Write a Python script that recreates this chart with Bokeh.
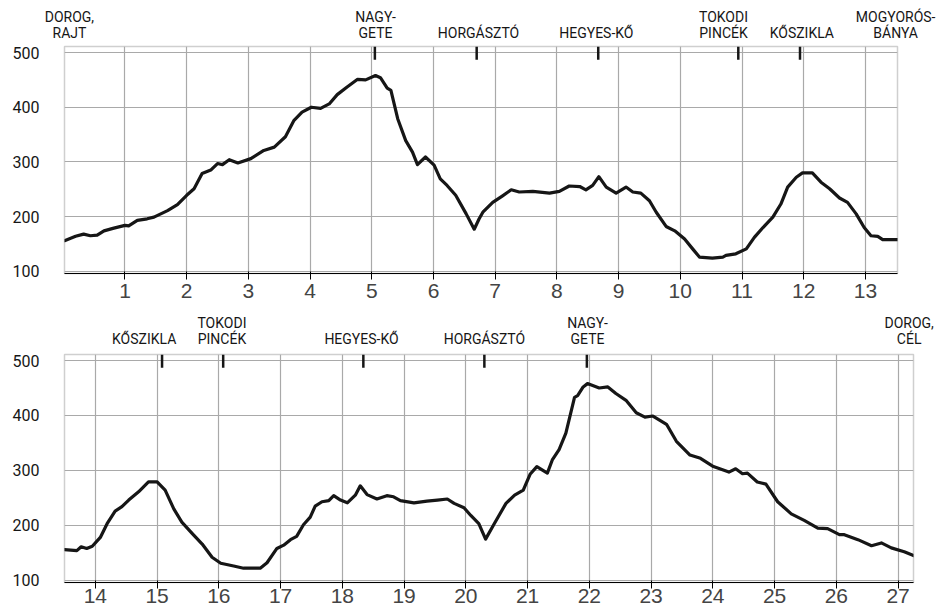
from bokeh.plotting import figure
from bokeh.layouts import column, row
from bokeh.models import Range1d, FixedTicker, LinearAxis
from bokeh.embed import file_html
from bokeh.resources import INLINE

# ---- elevation profile, first half (km, m) ----
km_1 = [0.02, 0.2, 0.33, 0.44, 0.55, 0.66, 0.82, 1.0, 1.06, 1.2, 1.36, 1.47, 1.69, 1.85, 2.0,
        2.12, 2.25, 2.39, 2.5, 2.58, 2.69, 2.83, 3.04, 3.25, 3.42, 3.6, 3.74, 3.87, 4.02, 4.17,
        4.31, 4.44, 4.6, 4.77, 4.9, 5.06, 5.14, 5.25, 5.31, 5.42, 5.55, 5.66, 5.74, 5.87, 6.01,
        6.11, 6.22, 6.36, 6.53, 6.66, 6.74, 6.8, 6.96, 7.12, 7.26, 7.39, 7.61, 7.88, 8.04, 8.2,
        8.37, 8.47, 8.58, 8.68, 8.8, 8.96, 9.12, 9.23, 9.36, 9.5, 9.61, 9.77, 9.91, 10.07, 10.2,
        10.31, 10.52, 10.69, 10.74, 10.9, 11.07, 11.2, 11.34, 11.5, 11.63, 11.74, 11.88, 11.98,
        12.14, 12.28, 12.42, 12.58, 12.71, 12.85, 12.98, 13.09, 13.2, 13.28, 13.52]
elev_1 = [156, 164, 168, 165, 166, 174, 179, 184, 183, 193, 196, 199, 211, 222, 239,
          251, 279, 285, 297, 295, 304, 298, 306, 321, 327, 346, 376, 391, 400, 398,
          406, 423, 437, 451, 450, 458, 454, 435, 431, 379, 339, 318, 295, 309, 294,
          269, 257, 239, 205, 177, 196, 208, 226, 238, 249, 245, 246, 243, 246, 256,
          255, 249, 257, 273, 254, 243, 254, 245, 243, 229, 208, 182, 174, 159, 141,
          126, 124, 126, 129, 132, 141, 162, 180, 199, 223, 254, 272, 280,
          280, 263, 251, 234, 226, 205, 180, 165, 164, 158, 158]

# ---- elevation profile, second half ----
km_2 = [13.5, 13.7, 13.77, 13.86, 13.95, 14.08, 14.19, 14.32, 14.43, 14.54, 14.7, 14.86, 15.0,
        15.13, 15.27, 15.4, 15.57, 15.73, 15.89, 16.03, 16.24, 16.4, 16.67, 16.78, 16.94, 17.05,
        17.16, 17.26, 17.37, 17.48, 17.56, 17.67, 17.78, 17.86, 17.97, 18.08, 18.21, 18.29, 18.4,
        18.56, 18.72, 18.83, 18.94, 19.16, 19.37, 19.54, 19.7, 19.81, 19.97, 20.08, 20.21, 20.32,
        20.46, 20.65, 20.79, 20.93, 21.04, 21.15, 21.32, 21.4, 21.51, 21.62, 21.76, 21.81, 21.9,
        21.97, 22.16, 22.3, 22.43, 22.6, 22.76, 22.9, 23.03, 23.25, 23.41, 23.63, 23.8, 24.01,
        24.26, 24.37, 24.48, 24.56, 24.72, 24.86, 25.05, 25.27, 25.48, 25.7, 25.86, 26.05, 26.13,
        26.35, 26.57, 26.73, 26.89, 27.1, 27.25]
elev_2 = [156, 154, 161, 158, 162, 178, 203, 226, 234, 246, 261, 279, 279,
          264, 230, 206, 185, 166, 142, 131, 126, 122, 122, 132, 158, 164,
          174, 180, 201, 215, 235, 243, 245, 254, 246, 241, 255, 272, 256,
          248, 254, 252, 245, 241, 244, 246, 248, 240, 232, 218, 203, 175,
          203, 240, 255, 264, 293, 307, 295, 319, 338, 368, 433, 436, 452,
          458, 450, 452, 440, 427, 405, 397, 399, 384, 353, 328, 322, 307,
          297, 303, 294, 295, 279, 275, 243, 221, 209, 195, 194, 183, 183,
          174, 163, 168, 159, 152, 145]

y_ticks = [100, 200, 300, 400, 500]
x_ticks_1 = list(range(1, 14))
x_ticks_2 = list(range(14, 28))

# ---- waypoints: tick position (km); label text and label centre (km) ----
mark_km_1 = [5.05, 6.70, 8.67, 10.94, 11.94]
place_names_1 = ["DOROG,\nRAJT", "NAGY-\nGETE", "HORGÁSZTÓ", "HEGYES-KŐ",
                 "TOKODI\nPINCÉK", "KŐSZIKLA", "MOGYORÓS-\nBÁNYA"]
place_km_1 = [0.10, 5.06, 6.73, 8.64, 10.70, 11.97, 13.49]

mark_km_2 = [15.08, 16.07, 18.34, 20.30, 21.96]
place_names_2 = ["KŐSZIKLA", "TOKODI\nPINCÉK", "HEGYES-KŐ", "HORGÁSZTÓ",
                 "NAGY-\nGETE", "DOROG,\nCÉL"]
place_km_2 = [14.79, 16.05, 18.31, 20.30, 21.97, 27.18]

FONT = "Roboto"
GRID = "#a9a9a9"
INK = "#161616"
Y_LO, Y_HI = 96, 511


def make_panel(xs, ys, x0, x1, xticks, marks, names, name_km, height, top, bottom,
               bottom_standoff, top_standoff, border_right):
    p = figure(width=939, height=height, x_range=Range1d(x0, x1), y_range=Range1d(Y_LO, Y_HI),
               output_backend="svg", toolbar_location=None,
               min_border_left=64, min_border_right=border_right, min_border_top=top,
               min_border_bottom=bottom)
    p.outline_line_color = "#cfcfcf"
    p.outline_line_width = 1.5

    # waypoint names on an axis above the frame
    top_axis = LinearAxis(ticker=FixedTicker(ticks=name_km),
                          major_label_overrides={k: n for k, n in zip(name_km, names)},
                          axis_line_color=None, major_tick_line_color=None,
                          minor_tick_line_color=None, major_label_standoff=top_standoff,
                          major_label_text_font=FONT, major_label_text_font_size="14px",
                          major_label_text_color=INK, major_label_text_line_height=1.0)
    p.add_layout(top_axis, "above")

    for ax in (p.xaxis[0], p.yaxis[0]):
        ax.axis_line_color = None
        ax.major_tick_line_color = None
        ax.minor_tick_line_color = None
        ax.major_label_text_font = FONT
        ax.major_label_text_color = INK
    p.below[0].ticker = FixedTicker(ticks=xticks)
    p.below[0].major_label_text_font_size = "21px"
    p.below[0].major_label_standoff = bottom_standoff
    p.yaxis.ticker = FixedTicker(ticks=y_ticks)
    p.yaxis.major_label_text_font_size = "16px"
    p.yaxis.major_label_standoff = 19

    p.xgrid.ticker = FixedTicker(ticks=xticks)
    p.ygrid.ticker = FixedTicker(ticks=y_ticks)
    for g in (p.xgrid[0], p.ygrid[0]):
        g.grid_line_color = GRID
        g.grid_line_width = 1.2

    p.line(xs, ys, line_color=INK, line_width=3.2, line_join="round", line_cap="round")

    p.segment(x0=marks, y0=[Y_HI] * len(marks), x1=marks, y1=[Y_HI - 24] * len(marks),
              line_color=INK, line_width=2.5)
    return p


p1 = make_panel(km_1, elev_1, 0.02, 13.52, x_ticks_1, mark_km_1, place_names_1, place_km_1,
                height=306, top=46, bottom=33, bottom_standoff=4, top_standoff=0,
                border_right=42)
p2 = make_panel(km_2, elev_2, 13.5, 27.25, x_ticks_2, mark_km_2, place_names_2, place_km_2,
                height=302, top=48, bottom=26, bottom_standoff=0, top_standoff=2,
                border_right=26)

layout = column(row(p1), row(p2), spacing=0)
open("out.html", "w").write(file_html(layout, INLINE))
